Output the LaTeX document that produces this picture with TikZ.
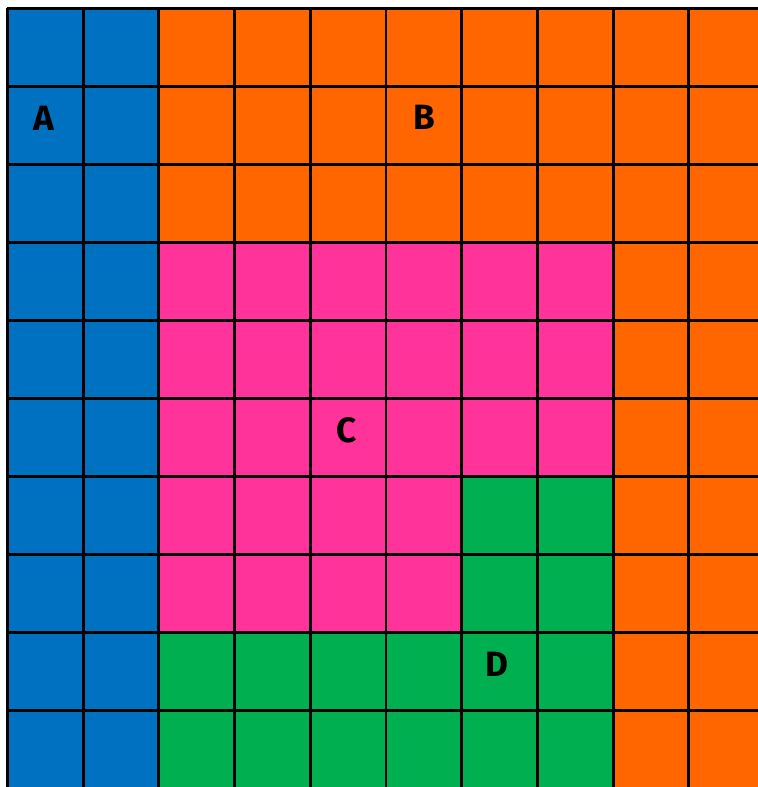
\documentclass[tikz,border=0pt]{standalone}
\usepackage{fontspec}
\setsansfont{Fira Sans}
\usetikzlibrary{positioning}

\begin{document}
\begin{tikzpicture}[
    x=1.514cm, y=-1.56cm,
    gridline/.style={draw=black, line width=1.7pt},
    tag/.style={font=\sffamily\bfseries\fontsize{20}{20}\selectfont, text=black, inner sep=0pt}
]
\definecolor{areaA}{HTML}{0070C0}
\definecolor{areaB}{HTML}{FF6600}
\definecolor{areaC}{HTML}{FF3399}
\definecolor{areaD}{HTML}{00B050}

\useasboundingbox (-0.099,-0.103) rectangle (9.914,9.987);
\clip (-0.099,-0.103) rectangle (9.914,9.987);

% Areas
\fill[areaA] (0,0) rectangle (2,10);
\fill[areaB] (2,0) rectangle (10,10);
\fill[areaC] (2,3) rectangle (8,8);
\fill[areaD] (2,8) rectangle (8,10);
\fill[areaD] (6,6) rectangle (8,8);

% Grid (10 x 10 cells)
\foreach \i in {0,...,10}
  \draw[gridline] (\i,0) -- (\i,10);
\foreach \j in {0,...,10}
  \draw[gridline] (0,\j) -- (10,\j);

% Labels
\node[tag] (A) at (0.48,1.41) {A};
\node[tag] (B) at (5.5,1.40) {B};
\node[tag] (C) at (4.48,5.41) {C};
\node[tag] (D) at (6.47,8.41) {D};

\end{tikzpicture}
\end{document}
